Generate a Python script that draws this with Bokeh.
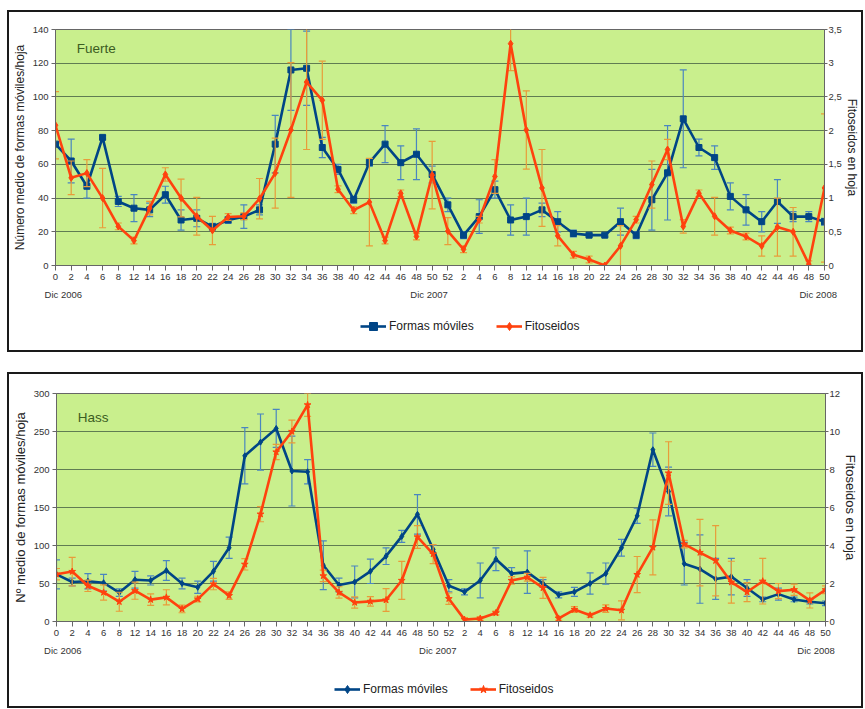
from bokeh.plotting import figure
from bokeh.models import (Range1d, LinearAxis, FixedTicker, CustomJSTickFormatter,
                          Legend, LegendItem, Label)
from bokeh.layouts import column
from bokeh.embed import file_html
from bokeh.resources import INLINE

# ---------------- data ----------------
week_labels = ["0", "2", "4", "6", "8", "12", "14", "16", "18", "20", "22", "24", "26",
               "28", "30", "32", "34", "36", "38", "40", "42", "44", "46", "48", "50", "52",
               "2", "4", "6", "8", "12", "14", "16", "18", "20", "22", "24", "26", "28",
               "30", "32", "34", "36", "38", "40", "42", "44", "46", "48", "50"]
date_labels = ["Dic 2006", "Dic 2007", "Dic 2008"]
series_names = ["Formas móviles", "Fitoseidos"]

fuerte_moviles = [72, 62, 47, 76, 38, 34, 33, 42, 27, 28, 23, 27, 29, 33, 72, 116, 117, 70, 57, 39,
                  61, 72, 61, 66, 54, 36, 18, 29, 45, 27, 29, 33, 26, 19, 18, 18, 26, 18, 39, 55,
                  87, 70, 64, 41, 33, 26, 38, 29, 29, 26]
fuerte_moviles_err = [0, 13, 7, 1, 3, 8, 4, 5, 6, 5, 2, 2, 7, 3, 17, 24, 22, 6, 3, 2,
                      2, 11, 10, 15, 5, 4, 2, 10, 5, 9, 11, 4, 6, 2, 1, 1, 8, 2, 18, 28,
                      29, 5, 7, 8, 9, 6, 13, 3, 3, 2]
fuerte_fito = [2.08, 1.30, 1.37, 1.0, 0.58, 0.37, 0.85, 1.35, 1.0, 0.73, 0.52, 0.72, 0.73, 0.99,
               1.37, 2.01, 2.72, 2.45, 1.13, 0.82, 0.94, 0.37, 1.07, 0.43, 1.34, 0.51, 0.24, 0.68,
               1.32, 3.29, 2.01, 1.15, 0.44, 0.16, 0.09, 0.0, 0.29, 0.68, 1.2, 1.72, 0.58, 1.07,
               0.73, 0.52, 0.43, 0.29, 0.57, 0.5, 0.02, 1.15]
fuerte_fito_err = [0.5, 0.25, 0.2, 0.44, 0.05, 0.05, 0.1, 0.1, 0.28, 0.28, 0.21, 0.05, 0.05, 0.3,
                   0.52, 1.0, 1.0, 0.58, 0.05, 0.05, 0.65, 0.05, 0.05, 0.05, 0.5, 0.2, 0.05, 0.05,
                   0.25, 0.4, 0.58, 0.57, 0.15, 0.05, 0.05, 0.0, 0.3, 0.05, 0.35, 0.15, 0.1, 0.05,
                   0.28, 0.05, 0.05, 0.15, 0.43, 0.36, 0.05, 1.1]

hass_moviles = [62, 52, 53, 51, 38, 55, 54, 67, 50, 45, 66, 97, 218, 236, 254, 198, 197, 74, 48, 52,
                66, 86, 112, 141, 95, 47, 39, 54, 82, 63, 65, 50, 35, 39, 50, 63, 97, 139, 226, 171,
                76, 69, 56, 59, 44, 29, 36, 29, 26, 24]
hass_moviles_err = [19, 5, 10, 11, 5, 11, 6, 13, 7, 8, 13, 14, 37, 37, 25, 46, 16, 32, 9, 21,
                    16, 11, 8, 26, 5, 8, 4, 23, 15, 8, 28, 5, 4, 6, 14, 14, 11, 10, 22, 32,
                    28, 45, 27, 24, 11, 3, 8, 3, 3, 3]
hass_fito = [2.49, 2.63, 1.88, 1.53, 1.04, 1.62, 1.15, 1.27, 0.66, 1.18, 1.97, 1.36, 3.01, 5.65,
             8.92, 10.0, 11.4, 2.4, 1.53, 1.0, 1.06, 1.13, 2.16, 4.45, 3.55, 1.2, 0.1, 0.16, 0.45,
             2.16, 2.33, 1.77, 0.16, 0.63, 0.33, 0.68, 0.59, 2.47, 3.9, 7.81, 4.07, 3.63, 3.2,
             2.07, 1.55, 2.12, 1.6, 1.67, 1.11, 1.67]
hass_fito_err = [0.3, 0.75, 0.3, 0.4, 0.5, 0.45, 0.3, 0.4, 0.2, 0.15, 0.3, 0.2, 0.3, 0.4, 0.4,
                 0.6, 0.6, 0.3, 0.3, 0.3, 0.25, 0.6, 1.0, 0.6, 0.5, 0.3, 0.1, 0.1, 0.1, 0.2, 0.2,
                 0.55, 0.1, 0.15, 0.1, 0.2, 0.5, 0.95, 1.45, 1.65, 0.2, 1.75, 1.85, 1.1, 0.5, 1.2,
                 0.4, 0.3, 0.4, 0.2]

# ---------------- style ----------------
BLUE = "#004586"
ORANGE = "#ff420e"
BLUE_ERR = "#4a86c0"
ORANGE_ERR = "#e89c3a"
BG = "#c9ef8d"
GRID = "#607c52"
FONT = "Liberation Sans"
W = 852
LEG_H = 48
BOX = {"border": "2px solid #1a1a1a"}


def panel(name, name_y, mov, mov_err, fito, fito_err, lmax, lstep, rmax, rstep,
          left_label, right_label, blue_marker, orange_marker, height, top, bottom,
          date_pos, label_size):
    x = list(range(len(week_labels)))
    p = figure(width=W, height=height, x_range=Range1d(0, len(week_labels) - 1),
               y_range=Range1d(0, lmax), output_backend="svg", toolbar_location=None,
               min_border_left=45, min_border_right=29, min_border_top=top,
               min_border_bottom=bottom, background_fill_color=BG,
               border_fill_color="white", outline_line_color="#666666")
    p.extra_y_ranges = {"r": Range1d(0, rmax)}

    p.xaxis.ticker = FixedTicker(ticks=x)
    p.xaxis.formatter = CustomJSTickFormatter(args=dict(labels=week_labels),
                                              code="return labels[Math.round(tick)] || '';")
    p.yaxis.ticker = FixedTicker(ticks=list(range(0, lmax + 1, lstep)))
    p.yaxis.axis_label = left_label
    ry = LinearAxis(y_range_name="r", axis_label=right_label,
                    ticker=FixedTicker(ticks=[i * rstep for i in range(int(round(rmax / rstep)) + 1)]),
                    formatter=CustomJSTickFormatter(code="return String(tick).replace('.', ',');"))
    p.add_layout(ry, "right")
    dax = LinearAxis(ticker=FixedTicker(ticks=date_pos),
                     formatter=CustomJSTickFormatter(args=dict(labels=date_labels, pos=date_pos),
                                                     code="const i = pos.indexOf(tick); return i >= 0 ? labels[i] : '';"),
                     axis_line_color=None, major_tick_line_color=None, minor_tick_line_color=None,
                     major_label_standoff=0)
    p.add_layout(dax, "below")

    for ax in [p.xaxis[0], p.yaxis[0], ry, dax]:
        ax.major_label_text_font = FONT
        ax.major_label_text_font_size = "9.5px"
        ax.major_label_text_color = "#333333"
        ax.axis_label_text_font = FONT
        ax.axis_label_text_font_style = "normal"
        ax.axis_label_text_font_size = label_size
        ax.axis_label_text_color = "#222222"
        ax.axis_label_standoff = 3
        ax.minor_tick_line_color = None
    for ax in [p.xaxis[0], p.yaxis[0], ry]:
        ax.axis_line_color = "#666666"
        ax.major_tick_line_color = "#666666"
        ax.major_tick_in = 0
        ax.major_tick_out = 4
        ax.major_label_standoff = 3
    p.xaxis[0].major_tick_out = 5
    ry.major_tick_out = 3
    ry.major_label_standoff = 1
    ry.axis_label_standoff = 0

    p.xgrid.grid_line_color = None
    p.ygrid.grid_line_color = GRID
    p.ygrid.grid_line_width = 1

    mlo = [v - e for v, e in zip(mov, mov_err)]
    mhi = [v + e for v, e in zip(mov, mov_err)]
    flo = [v - e for v, e in zip(fito, fito_err)]
    fhi = [v + e for v, e in zip(fito, fito_err)]

    p.segment(x0=x, y0=mlo, x1=x, y1=mhi, line_color=BLUE_ERR, line_width=1.2)
    p.scatter(x, mlo, marker="dash", size=7, line_color=BLUE_ERR, line_width=1.2)
    p.scatter(x, mhi, marker="dash", size=7, line_color=BLUE_ERR, line_width=1.2)
    p.line(x, mov, line_color=BLUE, line_width=2.6)
    p.scatter(x, mov, marker=blue_marker, size=6, fill_color=BLUE, line_color=BLUE)

    p.segment(x0=x, y0=flo, x1=x, y1=fhi, line_color=ORANGE_ERR, line_width=1.2, y_range_name="r")
    p.scatter(x, flo, marker="dash", size=7, line_color=ORANGE_ERR, line_width=1.2, y_range_name="r")
    p.scatter(x, fhi, marker="dash", size=7, line_color=ORANGE_ERR, line_width=1.2, y_range_name="r")
    p.line(x, fito, line_color=ORANGE, line_width=2.6, y_range_name="r")
    p.scatter(x, fito, marker=orange_marker, size=7, fill_color=ORANGE, line_color=ORANGE,
              y_range_name="r")

    p.add_layout(Label(x=1.35, y=name_y, text=name, text_baseline="middle",
                       text_font=FONT, text_font_size="13.5px", text_color="#3b5d22"))
    return p


def legend_fig(mov, fito, blue_marker, orange_marker, loc):
    # legend-only strip: the series are plotted out of view so only the legend shows
    x = list(range(len(week_labels)))
    lf = figure(width=W, height=LEG_H, x_range=Range1d(0, len(week_labels) - 1),
                y_range=Range1d(-2, -1), output_backend="svg", toolbar_location=None,
                x_axis_location=None, y_axis_location=None, min_border=0,
                outline_line_color=None, background_fill_color="white",
                border_fill_color="white")
    lf.xgrid.visible = False
    lf.ygrid.visible = False
    bl = lf.line(x, mov, line_color=BLUE, line_width=2.6)
    bs = lf.scatter(x, mov, marker=blue_marker, size=6, fill_color=BLUE, line_color=BLUE)
    ol = lf.line(x, fito, line_color=ORANGE, line_width=2.6)
    os_ = lf.scatter(x, fito, marker=orange_marker, size=7, fill_color=ORANGE, line_color=ORANGE)
    legend = Legend(items=[LegendItem(label=series_names[0], renderers=[bl, bs]),
                           LegendItem(label=series_names[1], renderers=[ol, os_])],
                    orientation="horizontal", location=loc,
                    border_line_color=None, background_fill_alpha=0,
                    label_text_font=FONT, label_text_font_size="12px",
                    label_text_color="#222222", glyph_width=26, label_standoff=3,
                    spacing=22, margin=0, padding=4)
    lf.add_layout(legend, "center")
    return lf


p1 = panel("Fuerte", 129, fuerte_moviles, fuerte_moviles_err, fuerte_fito, fuerte_fito_err,
           140, 20, 3.5, 0.5, "Número medio de formas móviles/hoja", "Fitoseidos en hoja",
           "square", "diamond", 290, 17, 36, [0.5, 23.8, 48.6], "12px")
l1 = legend_fig(fuerte_moviles, fuerte_fito, "square", "diamond", (305, 14))
p2 = panel("Hass", 269, hass_moviles, hass_moviles_err, hass_fito, hass_fito_err,
           300, 50, 12, 2, "Nº medio de formas móviles/hoja", "Fitoseidos en hoja",
           "diamond", "star", 284, 19, 35, [0.4, 24.3, 48.4], "13px")
l2 = legend_fig(hass_moviles, hass_fito, "diamond", "star", (278, 7))

box1 = column(p1, l1, spacing=0, styles=BOX)
box2 = column(p2, l2, spacing=0, styles=BOX)
layout = column(box1, box2, spacing=20, margin=(10, 0, 0, 7))

with open("out.html", "w") as f:
    f.write(file_html(layout, INLINE))
